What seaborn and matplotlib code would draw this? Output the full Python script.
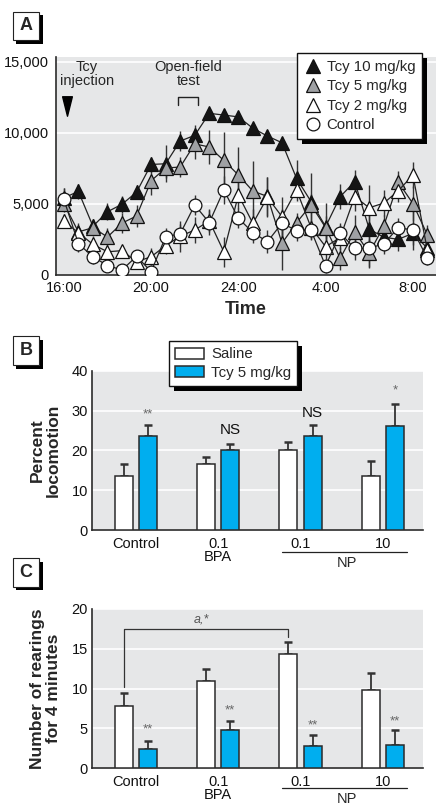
import matplotlib
matplotlib.use("Agg")
import matplotlib.pyplot as plt
import matplotlib.patches as mpatches
import matplotlib.transforms as mtransforms
from matplotlib.lines import Line2D
from matplotlib.path import Path
from matplotlib import font_manager
import numpy as np
import pandas as pd
import seaborn as sns

# ---------------- data ----------------
times = ["16:00", "16:40", "17:20", "18:00", "18:40", "19:20", "20:00", "20:40",
         "21:20", "22:00", "22:40", "23:20", "24:00", "0:40", "1:20", "2:00",
         "2:40", "3:20", "4:00", "4:40", "5:20", "6:00", "6:40", "7:20", "8:00", "8:40"]
tcy10 = [5400, 5850, 3400, 4420, 4950, 5800, 7750, 7800, 9400, 9800, 11350, 11230, 11100,
         10300, 9750, 9280, 6770, 5130, 3370, 5480, 6540, 3200, 2620, 2480, 2900, 1850]
tcy10_err = [700, 500, 500, 600, 600, 500, 500, 1300, 700, 700, 400, 400, 400,
             400, 400, 400, 1300, 2000, 1700, 900, 800, 1200, 800, 800, 800, 600]
tcy5 = [5000, 3000, 3300, 2640, 3620, 4120, 6600, 7500, 7570, 9200, 8980, 8030, 7010,
        5870, 5500, 2200, 3650, 4900, 3300, 1140, 3020, 1500, 3420, 6500, 5000, 2780]
tcy5_err = [600, 600, 600, 600, 700, 800, 1000, 700, 700, 1100, 1200, 2000, 2000,
            2100, 1400, 1900, 700, 800, 800, 800, 1200, 1000, 800, 800, 1200, 700]
tcy2 = [3750, 2950, 2120, 1600, 1680, 900, 1250, 2030, 2700, 3130, 3780, 1600, 5600,
        3600, 5440, 4070, 5950, 3300, 1960, 2600, 5480, 4700, 5030, 5900, 7000, 1700]
tcy2_err = [500, 500, 500, 400, 400, 500, 600, 600, 1100, 900, 800, 1050, 1000,
            1000, 1400, 1400, 800, 800, 900, 900, 1000, 1600, 900, 800, 930, 700]
control = [5290, 2170, 1250, 630, 320, 1280, 200, 2660, 2870, 4890, 3650, 5950, 3960,
           2950, 2310, 3620, 3090, 3100, 600, 2920, 1840, 1840, 2170, 3300, 3130, 1140]
control_err = [800, 600, 500, 400, 400, 400, 400, 600, 700, 700, 900, 1000, 700,
               700, 800, 1000, 700, 700, 500, 700, 800, 1400, 700, 700, 1400, 500]

time_ticks = [16, 20, 24, 28, 32]
time_ticklabels = ["16:00", "20:00", "24:00", "4:00", "8:00"]
a_yticks = [0, 5000, 10000, 15000]
a_yticklabels = ["0", "5,000", "10,000", "15,000"]

groups = ["Control", "0.1\nBPA", "0.1", "10"]
treatments = ["Saline", "Tcy 5 mg/kg"]
loco_saline = [13.6, 16.6, 20.0, 13.6]
loco_saline_err = [2.9, 1.8, 2.2, 3.8]
loco_tcy = [23.7, 20.0, 23.5, 26.1]
loco_tcy_err = [2.7, 1.6, 2.9, 5.5]
loco_marks = ["**", "NS", "NS", "*"]
loco_mark_y = [28.9, 25.1, 29.3, 35.0]

rear_saline = [7.85, 11.0, 14.3, 9.8]
rear_saline_err = [1.6, 1.5, 1.5, 2.1]
rear_tcy = [2.4, 4.8, 2.8, 2.95]
rear_tcy_err = [1.05, 1.1, 1.3, 1.85]
rear_marks = ["**", "**", "**", "**"]
rear_mark_y = [4.9, 7.2, 5.3, 5.9]

# ---------------- style ----------------
sns.set_theme(style="white")
available = {f.name for f in font_manager.fontManager.ttflist}
FONT = [f for f in ["Liberation Sans Narrow", "Liberation Sans", "DejaVu Sans"] if f in available]
NARROW = "Liberation Sans Narrow" in available
plt.rcParams["font.family"] = FONT
BG = "#e6e7e8"
DARK = "#2b2b2b"
BLUE = "#00aeef"
GREY = "#9fa1a4"
FS = 10.5 if NARROW else 10

W, H = 436, 808
fig = plt.figure(figsize=(W / 100, H / 100), dpi=100)


def fig_rect(x0, y0, x1, y1):
    """pixel box (top-left origin) -> figure fraction rect"""
    return [x0 / W, 1 - y1 / H, (x1 - x0) / W, (y1 - y0) / H]


def style_axes(ax):
    ax.set_facecolor(BG)
    for s in ["top", "right"]:
        ax.spines[s].set_visible(False)
    for s in ["left", "bottom"]:
        ax.spines[s].set_color(DARK)
        ax.spines[s].set_linewidth(1.2)
    ax.grid(axis="y", color="white", linewidth=1.2)
    ax.grid(axis="x", visible=False)
    ax.set_axisbelow(True)
    ax.tick_params(length=0, labelsize=FS + 0.5, colors="#111")


def panel_label(letter, x0, y0, x1, y1):
    sh = 3.5
    fig.add_artist(mpatches.Rectangle(((x0 + sh) / W, 1 - (y1 + sh) / H),
                                      (x1 - x0) / W, (y1 - y0) / H,
                                      transform=fig.transFigure, facecolor="black",
                                      edgecolor="black", lw=0))
    fig.add_artist(mpatches.Rectangle((x0 / W, 1 - y1 / H), (x1 - x0) / W, (y1 - y0) / H,
                                      transform=fig.transFigure, facecolor="white",
                                      edgecolor="#222", lw=0.8))
    fig.text((x0 + x1) / 2 / W, 1 - (y0 + y1) / 2 / H, letter, ha="center", va="center",
             fontsize=13, fontweight="bold", family=FONT)


def add_shadow(ax, leg, off=5):
    fig.canvas.draw()
    bb = leg.get_frame().get_window_extent(fig.canvas.get_renderer())
    r = mpatches.Rectangle((bb.x0 + off, bb.y0 - off), bb.width, bb.height,
                           transform=mtransforms.IdentityTransform(),
                           facecolor="black", edgecolor="none", zorder=4.9, clip_on=False)
    ax.add_artist(r)


# ---------------- panel A ----------------
axA = fig.add_axes(fig_rect(56, 56.7, 436, 274.5))
style_axes(axA)


def to_hours(s):
    h, m = s.split(":")
    h = int(h)
    if h < 16:
        h += 24
    return h + int(m) / 60


hours = [to_hours(t) for t in times]
series = [
    ("Tcy 10 mg/kg", tcy10, tcy10_err, "^", "#151515", 3),
    ("Tcy 5 mg/kg", tcy5, tcy5_err, "^", GREY, 4),
    ("Tcy 2 mg/kg", tcy2, tcy2_err, "^", "white", 5),
    ("Control", control, control_err, "o", "white", 6),
]
dfA = pd.DataFrame({"hour": hours})
for name, vals, errs, mk, fc, z in series:
    axA.errorbar(hours, vals, yerr=errs, fmt="none", ecolor="#333", elinewidth=1.0,
                 capsize=0, zorder=2)
for name, vals, errs, mk, fc, z in series:
    dfA[name] = vals
    sns.lineplot(data=dfA, x="hour", y=name, ax=axA, color="#222", linewidth=0.9,
                 marker=mk, markersize=10 if mk == "^" else 9.2, markerfacecolor=fc,
                 markeredgecolor="#111", markeredgewidth=0.9, zorder=z, legend=False)

axA.set_xlim(15.64, 33.06)
axA.set_ylim(0, 15340)
axA.set_xticks(time_ticks)
axA.set_xticklabels(time_ticklabels)
axA.set_yticks(a_yticks)
axA.set_yticklabels(a_yticklabels)
axA.tick_params(axis="x", pad=5)
axA.tick_params(axis="y", pad=5)
axA.set_ylabel("")
axA.set_xlabel("Time", fontsize=13, fontweight="bold", labelpad=4)

# annotations
arrow = Path([(-0.5, 1), (0.5, 1), (0, -1), (-0.5, 1)],
             [Path.MOVETO, Path.LINETO, Path.LINETO, Path.CLOSEPOLY])
axA.plot([16.13], [11900], marker=arrow, markersize=14, color="black", zorder=7)
axA.text(17.05, 14120, "Tcy\ninjection", ha="center", va="center", fontsize=FS + 0.5,
         linespacing=0.95)
axA.text(21.7, 14120, "Open-field\ntest", ha="center", va="center", fontsize=FS + 0.5,
         linespacing=0.95)
axA.plot([21.22, 21.22, 22.16, 22.16], [11950, 12520, 12520, 11950], color="#222", lw=1.0)

hA = [Line2D([], [], linestyle="none", marker=mk, markersize=10 if mk == "^" else 9.2,
             markerfacecolor=fc, markeredgecolor="#111", markeredgewidth=0.9)
      for name, vals, errs, mk, fc, z in series]
legA = axA.legend(hA, [s[0] for s in series], loc="upper right",
                  bbox_to_anchor=(0.963, 1.016), frameon=True, fancybox=False,
                  edgecolor="#111", framealpha=1, fontsize=FS + 0.8, labelspacing=0.36,
                  handletextpad=0.3, borderpad=0.45, handlelength=1.2, borderaxespad=0)
legA.get_frame().set_linewidth(1.0)
legA.set_zorder(10)

# ---------------- bar panels ----------------
palette = {"Saline": "white", "Tcy 5 mg/kg": BLUE}


def bar_panel(rect, sal, sal_err, tcy, tcy_err, ymax, yticks, marks, mark_y,
              mark_sizes, ylabel, np_line_y, np_text_y):
    ax = fig.add_axes(rect)
    style_axes(ax)
    df = pd.DataFrame({
        "group": groups * 2,
        "treatment": [treatments[0]] * 4 + [treatments[1]] * 4,
        "value": sal + tcy,
    })
    sns.barplot(data=df, x="group", y="value", hue="treatment", order=groups,
                hue_order=treatments, palette=palette, edgecolor=DARK, linewidth=1.1,
                width=0.59, gap=0.26, errorbar=None, saturation=1, ax=ax, zorder=3)
    bars = [p for p in ax.patches if isinstance(p, mpatches.Rectangle) and p.get_height() > 0]
    bars = bars[:8]
    xs = [b.get_x() + b.get_width() / 2 for b in bars]
    hs = [b.get_height() for b in bars]
    errs = sal_err + tcy_err
    ax.errorbar(xs, hs, yerr=[np.zeros(8), errs], fmt="none", ecolor="#333",
                elinewidth=1.3, capsize=2.6, capthick=1.8, zorder=2)
    for i, (m, my) in enumerate(zip(marks, mark_y)):
        xc = xs[4 + i]
        if m == "NS":
            ax.text(xc, my, m, ha="center", va="center", fontsize=FS + 1, color="#111")
        else:
            ax.text(xc, my, m, ha="center", va="center", fontsize=mark_sizes,
                    color="#666")
    ax.set_ylim(0, ymax)
    ax.set_xlim(-0.53, 3.48)
    ax.set_yticks(yticks)
    ax.set_xlabel("")
    ax.set_ylabel(ylabel, fontsize=12.5, fontweight="bold", linespacing=1.05)
    ax.yaxis.set_label_coords(-0.094, 0.5)
    ax.tick_params(axis="x", pad=5)
    ax.tick_params(axis="y", pad=3)
    for lab in ax.get_xticklabels():
        lab.set_linespacing(0.95)
    ax.plot([1.772, 3.295], [np_line_y, np_line_y], color="#222", lw=0.9,
            transform=ax.get_xaxis_transform(), clip_on=False)
    ax.text(2.56, np_text_y, "NP", ha="center", va="center", fontsize=FS + 0.5,
            transform=ax.get_xaxis_transform())
    return ax, xs


axB, xsB = bar_panel(fig_rect(92, 370.7, 422.7, 530), loco_saline, loco_saline_err,
                     loco_tcy, loco_tcy_err, 40, [0, 10, 20, 30, 40], loco_marks,
                     loco_mark_y, 9.5, "Percent\nlocomotion", -0.136, -0.209)
hB, lB = axB.get_legend_handles_labels()
legB = axB.legend(hB, lB, loc="upper left", bbox_to_anchor=(0.233, 1.184),
                  frameon=True, fancybox=False, edgecolor="#111", framealpha=1,
                  fontsize=FS + 0.8, labelspacing=0.3, handletextpad=0.5, borderpad=0.4,
                  handlelength=1.9, handleheight=0.75, borderaxespad=0)
legB.get_frame().set_linewidth(1.0)
legB.set_zorder(10)

axC, xsC = bar_panel(fig_rect(92, 609, 422.7, 768), rear_saline, rear_saline_err,
                     rear_tcy, rear_tcy_err, 20, [0, 5, 10, 15, 20], rear_marks,
                     rear_mark_y, 9.5, "Number of rearings\nfor 4 minutes", -0.128, -0.197)
if axC.get_legend() is not None:
    axC.get_legend().remove()

# bracket in C
axC.plot([xsC[0], xsC[0], xsC[2], xsC[2]], [10.2, 17.45, 17.45, 16.45], color="#333",
         lw=0.9, zorder=4)
axC.text((xsC[0] + xsC[2]) / 2 - 0.05, 18.7, "a,*", ha="center", va="center",
         fontsize=9, style="italic", color="#555")

# panel labels
panel_label("A", 12.7, 11.7, 39.3, 40)
panel_label("B", 12.7, 336, 39.3, 365)
panel_label("C", 12.7, 558, 39.3, 586.7)

add_shadow(axA, legA)
add_shadow(axB, legB)

fig.savefig("out.png", dpi=100)
